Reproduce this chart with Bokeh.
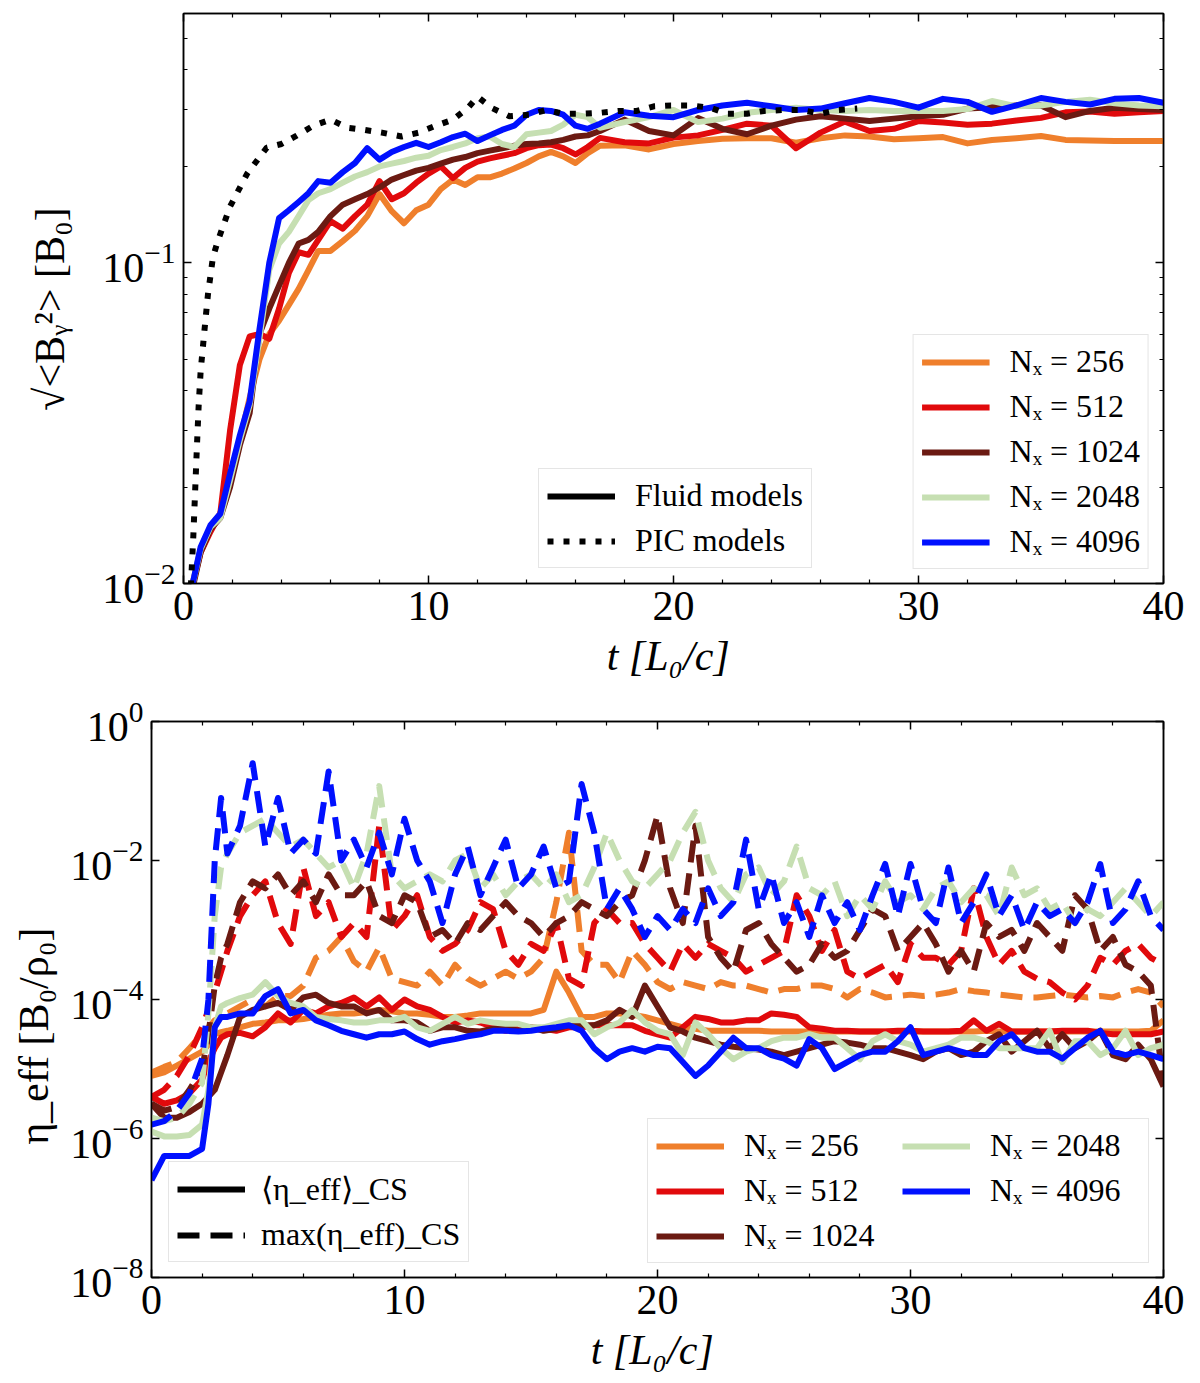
from bokeh.embed import file_html
from bokeh.models import (ColumnDataSource, CustomJSTickFormatter, FixedTicker, Legend,
                          LegendItem, LinearAxis, LogAxis, LogTickFormatter, Range1d)
from bokeh.plotting import figure
from bokeh.resources import INLINE

FONT = "Liberation Serif"

NX = ["256", "512", "1024", "2048", "4096"]
COLORS = ["#ef7f2c", "#e10a0c", "#6b1a12", "#c6dfb2", "#0010ff"]

X_MAJOR = [0, 10, 20, 30, 40]
X_MINOR = [2, 4, 6, 8, 12, 14, 16, 18, 22, 24, 26, 28, 32, 34, 36, 38]
TOP_Y_MAJOR = [0.01, 0.1]
TOP_Y_MINOR = [0.02, 0.03, 0.04, 0.05, 0.06, 0.07, 0.08, 0.09, 0.2, 0.3, 0.4, 0.5, 0.6]
BOT_Y_MAJOR = [1e-8, 1e-6, 1e-4, 1e-2, 1.0]

# ---- top panel: sqrt(<B_y^2>) [B0] vs t ----
T_TOP = [0.35, 0.7, 1.1, 1.5, 1.9, 2.3, 2.7, 3.1, 3.5, 3.9,
         4.3, 4.7, 5.1, 5.5, 6.0, 6.5, 7.0, 7.5, 8.0, 8.5,
         9.0, 9.5, 10.0, 10.5, 11.0, 11.5, 12.0, 12.5, 13.0, 13.5,
         14.0, 14.5, 15.0, 15.5, 16.0, 16.5, 17.0, 18.0, 19.0, 20.0,
         21.0, 22.0, 23.0, 24.0, 25.0, 26.0, 27.0, 28.0, 29.0, 30.0,
         31.0, 32.0, 33.0, 34.0, 35.0, 36.0, 37.0, 38.0, 39.0, 40.0]

BY_256 = [0.0098, 0.0128, 0.015, 0.0165, 0.021, 0.028, 0.038, 0.05, 0.06, 0.066,
          0.074, 0.083, 0.095, 0.109, 0.109, 0.117, 0.126, 0.14, 0.164, 0.145,
          0.133, 0.146, 0.152, 0.17, 0.182, 0.175, 0.185, 0.185, 0.19, 0.197,
          0.205, 0.215, 0.222, 0.215, 0.205, 0.22, 0.232, 0.233, 0.226, 0.235,
          0.24, 0.244, 0.245, 0.245, 0.237, 0.245, 0.25, 0.248, 0.243, 0.245,
          0.247, 0.236, 0.242, 0.245, 0.249, 0.242, 0.241, 0.24, 0.24, 0.24]
BY_512 = [0.0098, 0.0125, 0.0145, 0.0165, 0.030, 0.048, 0.059, 0.06, 0.058, 0.072,
          0.093, 0.108, 0.106, 0.118, 0.135, 0.128, 0.14, 0.152, 0.18, 0.158,
          0.165, 0.178, 0.19, 0.2, 0.184, 0.198, 0.207, 0.212, 0.216, 0.22,
          0.228, 0.233, 0.234, 0.228, 0.218, 0.23, 0.2455, 0.238, 0.236, 0.246,
          0.25, 0.26, 0.272, 0.268, 0.228, 0.255, 0.276, 0.258, 0.262, 0.277,
          0.274, 0.27, 0.272, 0.278, 0.2835, 0.295, 0.297, 0.292, 0.295, 0.298]
BY_1024 = [0.0095, 0.0125, 0.0148, 0.016, 0.020, 0.027, 0.034, 0.060, 0.072, 0.085,
           0.10, 0.115, 0.118, 0.125, 0.14, 0.152, 0.158, 0.164, 0.172, 0.182,
           0.188, 0.194, 0.198, 0.204, 0.21, 0.214, 0.22, 0.224, 0.228, 0.232,
           0.235, 0.236, 0.238, 0.242, 0.248, 0.25, 0.258, 0.28, 0.258, 0.25,
           0.283, 0.262, 0.252, 0.268, 0.28, 0.287, 0.282, 0.277, 0.282, 0.287,
           0.29, 0.303, 0.306, 0.31, 0.31, 0.285, 0.298, 0.305, 0.302, 0.30]
BY_2048 = [0.0098, 0.0128, 0.015, 0.016, 0.021, 0.028, 0.036, 0.058, 0.095, 0.115,
           0.125, 0.14, 0.157, 0.165, 0.17, 0.178, 0.186, 0.192, 0.20, 0.204,
           0.208, 0.213, 0.216, 0.225, 0.23, 0.236, 0.245, 0.248, 0.235, 0.23,
           0.252, 0.255, 0.258, 0.27, 0.29, 0.285, 0.264, 0.275, 0.285, 0.30,
           0.275, 0.282, 0.294, 0.30, 0.305, 0.30, 0.298, 0.30, 0.298, 0.298,
           0.298, 0.302, 0.32, 0.308, 0.31, 0.318, 0.323, 0.315, 0.31, 0.308]
BY_4096 = [0.0098, 0.013, 0.0152, 0.0165, 0.022, 0.029, 0.037, 0.062, 0.10, 0.138,
           0.146, 0.155, 0.165, 0.18, 0.178, 0.192, 0.205, 0.228, 0.21, 0.222,
           0.23, 0.237, 0.23, 0.238, 0.247, 0.253, 0.24, 0.25, 0.26, 0.268,
           0.29, 0.30, 0.298, 0.29, 0.268, 0.262, 0.272, 0.295, 0.288, 0.285,
           0.30, 0.31, 0.316, 0.308, 0.30, 0.303, 0.315, 0.327, 0.318, 0.305,
           0.325, 0.318, 0.296, 0.31, 0.327, 0.318, 0.312, 0.325, 0.327, 0.316]

T_PIC = [0.3, 0.4, 0.47, 0.55, 0.62, 0.7, 0.85, 1.0, 1.2, 1.4,
         1.9, 2.6, 3.4, 4.0, 4.6, 5.3, 6.0, 6.7, 7.4, 8.1,
         8.9, 9.6, 10.3, 11.0, 11.6, 12.0, 12.6, 13.3, 14.1, 14.8,
         15.5, 16.3, 17.0, 17.8, 18.5, 19.2, 19.9, 20.7, 21.5, 22.2,
         23.0, 23.7, 24.5, 25.2, 26.0, 26.7, 27.5]
BY_PIC = [0.0098, 0.014, 0.019, 0.027, 0.036, 0.046, 0.061, 0.08, 0.104, 0.117,
          0.15, 0.19, 0.229, 0.235, 0.249, 0.268, 0.28, 0.264, 0.26, 0.255,
          0.248, 0.255, 0.268, 0.28, 0.304, 0.33, 0.304, 0.287, 0.29, 0.30,
          0.292, 0.292, 0.294, 0.298, 0.298, 0.308, 0.31, 0.31, 0.305, 0.292,
          0.292, 0.298, 0.30, 0.30, 0.292, 0.30, 0.303]

# ---- bottom panel: eta_eff, values ----
T_BOT = [0, 0.5, 1, 1.5, 2, 2.25, 2.5, 2.75,
         3, 3.5, 4, 4.5, 5, 5.5, 6, 6.5, 7, 7.5,
         8, 8.5, 9, 9.5, 10, 10.5, 11, 11.5, 12, 12.5,
         13, 13.5, 14, 14.5, 15, 15.5, 16, 16.5, 17, 17.5,
         18, 18.5, 19, 19.5, 20, 20.5, 21, 21.5, 22, 22.5,
         23, 23.5, 24, 24.5, 25, 25.5, 26, 26.5, 27, 27.5,
         28, 28.5, 29, 29.5, 30, 30.5, 31, 31.5, 32, 32.5,
         33, 33.5, 34, 34.5, 35, 35.5, 36, 36.5, 37, 37.5,
         38, 38.5, 39, 39.5, 40]

LOG_MEAN_256 = [-5.1, -5.05, -4.95, -4.85, -4.75, -4.65, -4.5, -4.47,
                -4.45, -4.4, -4.35, -4.33, -4.3, -4.3, -4.28, -4.25, -4.22, -4.2,
                -4.2, -4.18, -4.15, -4.17, -4.2, -4.2, -4.22, -4.25, -4.25, -4.23,
                -4.2, -4.2, -4.2, -4.2, -4.2, -4.15, -3.6, -3.9, -4.25, -4.25,
                -4.2, -4.2, -4.22, -4.25, -4.3, -4.35, -4.4, -4.42, -4.45, -4.45,
                -4.45, -4.45, -4.45, -4.46, -4.46, -4.46, -4.46, -4.46, -4.46, -4.46,
                -4.46, -4.46, -4.46, -4.46, -4.46, -4.46, -4.46, -4.46, -4.46, -4.46,
                -4.45, -4.46, -4.46, -4.46, -4.46, -4.46, -4.46, -4.46, -4.46, -4.46,
                -4.46, -4.46, -4.46, -4.45, -4.3]
LOG_MAX_256 = [-5.05, -4.97, -4.9, -4.7, -4.5, -4.4, -4.3, -4.25,
               -4.2, -4.1, -4.0, -4.1, -3.95, -3.95, -3.8, -3.4, -3.3, -3.1,
               -3.45, -3.6, -3.25, -3.7, -3.75, -3.8, -3.6, -3.8, -3.5, -3.7,
               -3.8, -3.7, -3.6, -3.7, -3.6, -3.4, -2.6, -1.6, -3.3, -3.5,
               -3.5, -3.75, -3.3, -3.5, -3.75, -3.85, -3.75, -3.8, -3.85, -3.75,
               -3.8, -3.8, -3.85, -3.9, -3.85, -3.85, -3.8, -3.8, -3.85, -3.97,
               -3.85, -3.9, -3.97, -3.95, -3.93, -3.95, -3.93, -3.9, -3.85, -3.88,
               -3.9, -3.93, -3.95, -3.97, -3.97, -3.95, -3.93, -3.95, -3.97, -3.95,
               -3.97, -3.9, -3.85, -3.9, -4.1]
LOG_MEAN_512 = [-5.4, -5.5, -5.45, -5.35, -5.15, -4.9, -4.7, -4.55,
                -4.5, -4.48, -4.53, -4.4, -4.2, -4.33, -4.15, -4.2, -4.1, -4.05,
                -3.97, -4.1, -3.97, -4.15, -4.0, -4.1, -4.15, -4.25, -4.33, -4.3,
                -4.33, -4.4, -4.45, -4.4, -4.4, -4.42, -4.45, -4.4, -4.4, -4.37,
                -4.37, -4.37, -4.37, -4.45, -4.5, -4.55, -4.4, -4.25, -4.28, -4.33,
                -4.33, -4.3, -4.3, -4.2, -4.22, -4.25, -4.4, -4.42, -4.45, -4.45,
                -4.46, -4.46, -4.46, -4.45, -4.45, -4.46, -4.46, -4.46, -4.45, -4.3,
                -4.45, -4.35, -4.46, -4.46, -4.46, -4.46, -4.45, -4.45, -4.45, -4.48,
                -4.5, -4.5, -4.5, -4.5, -4.46]
LOG_MAX_512 = [-5.4, -5.3, -5.1, -4.8, -4.4, -4.15, -3.9, -3.6,
               -3.3, -2.8, -2.5, -2.3, -2.9, -3.2, -2.1, -2.8, -2.6, -3.1,
               -2.9, -3.1, -1.5, -3.0, -2.8, -2.5, -3.1, -3.3, -3.2, -3.0,
               -2.6, -2.7, -3.3, -3.5, -3.2, -3.3, -2.9, -3.7, -3.8, -2.9,
               -2.7, -2.9, -2.9, -3.2, -3.4, -3.6, -3.2, -3.4, -3.2, -3.3,
               -3.4, -3.6, -3.5, -3.4, -3.3, -2.5, -2.8, -3.3, -3.0, -3.6,
               -3.7, -3.6, -3.5, -3.75, -3.2, -3.4, -3.4, -3.5, -3.3, -2.4,
               -3.1, -3.5, -3.3, -3.6, -3.7, -3.75, -3.9, -4.0, -3.8, -3.4,
               -3.5, -3.3, -3.2, -3.4, -3.5]
LOG_MEAN_1024 = [-5.5, -5.7, -5.7, -5.62, -5.5, -5.4, -5.3, -5.05,
                 -4.8, -4.25, -4.15, -4.1, -4.05, -4.15, -3.97, -3.93, -4.05, -4.1,
                 -4.1, -4.2, -4.15, -4.3, -4.3, -4.33, -4.45, -4.4, -4.4, -4.45,
                 -4.46, -4.42, -4.4, -4.45, -4.4, -4.45, -4.42, -4.37, -4.37, -4.37,
                 -4.3, -4.15, -4.25, -3.8, -4.1, -4.4, -4.46, -4.55, -4.6, -4.65,
                 -4.68, -4.7, -4.72, -4.75, -4.8, -4.75, -4.7, -4.65, -4.6, -4.62,
                 -4.65, -4.7, -4.7, -4.75, -4.8, -4.86, -4.75, -4.7, -4.8, -4.75,
                 -4.6, -4.5, -4.75, -4.6, -4.45, -4.7, -4.5, -4.7, -4.6, -4.45,
                 -4.8, -4.86, -4.65, -4.86, -5.25]
LOG_MAX_1024 = [-5.5, -5.6, -5.55, -5.3, -5.0, -4.5, -3.8, -3.4,
                -3.2, -2.6, -2.3, -2.4, -2.2, -2.5, -2.3, -2.6, -2.2, -2.5,
                -2.5, -2.3, -2.8, -2.9, -2.5, -2.6, -3.1, -3.0, -3.2, -2.9,
                -3.0, -2.8, -2.6, -2.8, -2.9, -3.1, -2.9, -2.8, -2.6, -2.7,
                -2.8, -2.6, -2.5, -2.0, -1.35, -2.4, -2.9, -1.5, -3.1, -3.4,
                -3.6, -3.0, -2.9, -3.2, -3.4, -3.6, -3.5, -3.2, -3.4, -3.3,
                -3.0, -2.7, -2.8, -3.3, -3.1, -2.9, -3.2, -3.6, -3.3, -3.6,
                -2.9, -3.1, -3.0, -3.3, -2.9, -3.1, -3.3, -2.5, -2.7, -3.3,
                -3.1, -3.5, -3.6, -3.8, -5.2]
LOG_MEAN_2048 = [-5.9, -5.97, -5.97, -5.95, -5.8, -5.3, -4.4, -4.1,
                 -4.05, -3.98, -3.93, -3.75, -3.95, -4.05, -4.1, -4.25, -4.28, -4.3,
                 -4.33, -4.33, -4.3, -4.3, -4.25, -4.4, -4.45, -4.35, -4.25, -4.35,
                 -4.3, -4.33, -4.35, -4.35, -4.4, -4.4, -4.35, -4.3, -4.3, -4.5,
                 -4.4, -4.33, -4.15, -4.33, -4.45, -4.5, -4.8, -4.33, -4.5, -4.7,
                 -4.86, -4.75, -4.7, -4.6, -4.55, -4.55, -4.5, -4.55, -4.55, -4.7,
                 -4.86, -4.6, -4.5, -4.6, -4.65, -4.75, -4.7, -4.65, -4.55, -4.55,
                 -4.6, -4.7, -4.7, -4.7, -4.7, -4.45, -4.9, -4.6, -4.6, -4.8,
                 -4.7, -4.45, -4.8, -4.7, -4.65]
LOG_MAX_2048 = [-5.7, -5.75, -5.7, -5.5, -5.2, -4.2, -2.8, -2.1,
                -1.9, -1.6, -1.5, -1.4, -1.6, -1.8, -1.7, -1.9, -2.1, -2.0,
                -2.4, -1.9, -0.93, -2.2, -2.4, -2.3, -2.2, -2.3, -2.0, -1.9,
                -2.4, -2.2, -2.5, -2.3, -2.2, -2.4, -2.2, -2.6, -2.5, -2.1,
                -1.6, -2.0, -2.3, -2.4, -2.2, -2.0, -1.6, -1.3, -2.0, -2.4,
                -2.6, -2.2, -2.1, -2.5, -2.3, -1.8, -2.4, -2.5, -2.3, -2.8,
                -2.5, -2.7, -2.3, -2.6, -2.5, -2.7, -2.4, -2.3, -2.6, -2.4,
                -2.5, -2.8, -2.1, -2.5, -2.4, -2.7, -2.6, -2.9, -2.7, -2.8,
                -2.6, -2.4, -2.6, -2.8, -2.6]
LOG_MEAN_4096 = [-6.6, -6.25, -6.25, -6.25, -6.15, -5.5, -4.4, -4.25,
                 -4.25, -4.2, -4.2, -3.95, -3.85, -4.2, -4.15, -4.3, -4.37, -4.45,
                 -4.5, -4.55, -4.5, -4.5, -4.46, -4.57, -4.65, -4.6, -4.57, -4.53,
                 -4.5, -4.45, -4.45, -4.46, -4.45, -4.42, -4.4, -4.37, -4.45, -4.7,
                 -4.86, -4.75, -4.7, -4.75, -4.68, -4.7, -4.9, -5.1, -4.95, -4.75,
                 -4.55, -4.7, -4.7, -4.8, -4.85, -4.95, -4.57, -4.7, -5.0, -4.9,
                 -4.8, -4.75, -4.75, -4.6, -4.4, -4.8, -4.75, -4.7, -4.75, -4.8,
                 -4.8, -4.6, -4.5, -4.7, -4.75, -4.75, -4.85, -4.7, -4.55, -4.45,
                 -4.75, -4.8, -4.75, -4.8, -4.86]
LOG_MAX_4096 = [-5.8, -5.75, -5.6, -5.35, -4.85, -4.0, -2.0, -1.1,
                -1.9, -1.5, -0.6, -1.8, -1.1, -1.9, -1.7, -1.9, -0.72, -2.0,
                -1.7, -2.1, -1.6, -2.2, -1.4, -2.0, -2.3, -2.9, -2.2, -1.8,
                -2.5, -2.1, -1.7, -2.4, -2.2, -1.8, -2.4, -2.3, -0.9, -1.6,
                -2.7, -2.4, -2.7, -3.1, -2.8, -3.0, -2.7, -2.9, -2.4, -2.8,
                -2.6, -1.7, -2.7, -2.2, -2.9, -2.6, -3.1, -2.5, -2.9, -2.6,
                -3.0, -2.5, -2.05, -2.8, -2.05, -2.7, -2.9, -2.1, -2.9, -2.6,
                -2.2, -2.8, -2.5, -3.0, -2.6, -2.8, -2.7, -2.9, -2.6, -2.05,
                -2.9, -2.7, -2.3, -2.8, -3.0]

TOP_SERIES = [BY_256, BY_512, BY_1024, BY_2048, BY_4096]
BOT_MEAN = [LOG_MEAN_256, LOG_MEAN_512, LOG_MEAN_1024, LOG_MEAN_2048, LOG_MEAN_4096]
BOT_MAX = [LOG_MAX_256, LOG_MAX_512, LOG_MAX_1024, LOG_MAX_2048, LOG_MAX_4096]

LW = 6
DOTTED = "6 10"
DASHED = "22 11"


def base_figure(frame_w, frame_h, left, right, top, bottom, y_range, y_major, y_minor,
                ylabel, ylabel_standoff):
    p = figure(frame_width=frame_w, frame_height=frame_h,
               x_range=Range1d(0, 40), y_range=y_range, y_axis_type="log",
               output_backend="svg", toolbar_location=None,
               min_border_left=left, min_border_right=right,
               min_border_top=top, min_border_bottom=bottom)
    p.grid.visible = False
    p.outline_line_color = "black"
    p.outline_line_width = 1.5
    p.background_fill_color = "white"
    p.border_fill_color = "white"

    xt = FixedTicker(ticks=X_MAJOR, minor_ticks=X_MINOR)
    yt = FixedTicker(ticks=y_major, minor_ticks=y_minor)
    p.xaxis.ticker = xt
    p.yaxis.ticker = yt
    p.yaxis.formatter = LogTickFormatter()

    p.xaxis.axis_label = "t  [L₀/c]"
    p.xaxis.axis_label_text_font_style = "italic"
    p.yaxis.axis_label = ylabel
    p.yaxis.axis_label_text_font_style = "normal"
    for ax in (p.xaxis[0], p.yaxis[0]):
        ax.major_label_text_font = FONT
        ax.major_label_text_font_size = "42px"
        ax.major_label_text_color = "black"
        ax.axis_label_text_font = FONT
        ax.axis_label_text_font_size = "42px"
        ax.axis_label_text_color = "black"
    p.xaxis.major_label_standoff = 8
    p.xaxis.axis_label_standoff = 10
    p.yaxis.major_label_standoff = 8
    p.yaxis.axis_label_standoff = ylabel_standoff

    blank = CustomJSTickFormatter(code="return ''")
    p.add_layout(LinearAxis(ticker=xt, formatter=blank, major_label_text_font_size="0px",
                            major_label_standoff=0), "above")
    p.add_layout(LogAxis(ticker=yt, formatter=blank, major_label_text_font_size="0px",
                         major_label_standoff=0), "right")
    for ax in p.axis:
        ax.axis_line_width = 1.5
        ax.major_tick_in = 8
        ax.major_tick_out = 0
        ax.minor_tick_in = 4
        ax.minor_tick_out = 0
        ax.major_tick_line_width = 1.5
        ax.minor_tick_line_width = 1.2
    return p


def style_legend(leg, label_width=20):
    leg.label_text_font = FONT
    leg.label_text_font_size = "32px"
    leg.label_text_color = "black"
    leg.glyph_width = 68
    leg.glyph_height = 36
    leg.label_height = 36
    leg.label_width = label_width
    leg.label_standoff = 20
    leg.spacing = 8
    leg.padding = 8
    leg.margin = 14
    leg.border_line_color = "#cccccc"
    leg.border_line_width = 1.5
    leg.background_fill_color = "white"
    leg.background_fill_alpha = 0.85


def proxy(p, **line_kw):
    # legend-only renderer: one empty (NaN) point, nothing is drawn in the frame
    src = ColumnDataSource(data=dict(x=[float("nan")], y=[float("nan")]))
    return p.line("x", "y", source=src, color="black", line_width=LW, **line_kw)


# ---------------- top panel ----------------
top = base_figure(980, 570, 183, 32, 13, 100, Range1d(0.01, 0.6),
                  TOP_Y_MAJOR, TOP_Y_MINOR, "√<Bᵧ²>   [B₀]", 26)

top_items = []
for n, color, vals in zip(NX, COLORS, TOP_SERIES):
    r = top.line(T_TOP, vals, color=color, line_width=LW, line_join="round")
    top_items.append(LegendItem(label=f"Nₓ = {n}", renderers=[r]))
top.line(T_PIC, BY_PIC, color="black", line_width=LW, line_dash=DOTTED, line_cap="butt")

fluid_proxy = proxy(top)
pic_proxy = proxy(top, line_dash=DOTTED, line_cap="butt")

leg_top_nx = Legend(items=top_items, location="bottom_right")
style_legend(leg_top_nx)
top.add_layout(leg_top_nx)

leg_top_model = Legend(items=[LegendItem(label="Fluid models", renderers=[fluid_proxy]),
                              LegendItem(label="PIC models", renderers=[pic_proxy])],
                       location=(355, 15))
style_legend(leg_top_model)
top.add_layout(leg_top_model)

# ---------------- bottom panel ----------------
bot = base_figure(1012, 556, 151, 32, 38, 100, Range1d(1e-8, 1.0),
                  BOT_Y_MAJOR, [], "η_eff  [B₀/ρ₀]" + "\u00a0" * 6, 10)

bot_items = []
for n, color, lmean, lmax in zip(NX, COLORS, BOT_MEAN, BOT_MAX):
    r = bot.line(T_BOT, [10 ** v for v in lmean], color=color, line_width=LW, line_join="round")
    bot.line(T_BOT, [10 ** v for v in lmax], color=color, line_width=LW,
             line_dash=DASHED, line_join="round")
    bot_items.append(LegendItem(label=f"Nₓ = {n}", renderers=[r]))

mean_proxy = proxy(bot)
max_proxy = proxy(bot, line_dash=DASHED)

leg_bot_nx = Legend(items=bot_items, location="bottom_right", nrows=3)
style_legend(leg_bot_nx, label_width=150)
bot.add_layout(leg_bot_nx)

leg_bot_kind = Legend(items=[LegendItem(label="⟨η_eff⟩_CS", renderers=[mean_proxy]),
                             LegendItem(label="max(η_eff)_CS", renderers=[max_proxy])],
                      location=(17, 15))
style_legend(leg_bot_kind)
leg_bot_kind.label_standoff = 16
bot.add_layout(leg_bot_kind)

# two separate roots so each frame keeps its own left border
open("out.html", "w").write(file_html([top, bot], INLINE,
                                      title="B_y growth and effective resistivity"))
